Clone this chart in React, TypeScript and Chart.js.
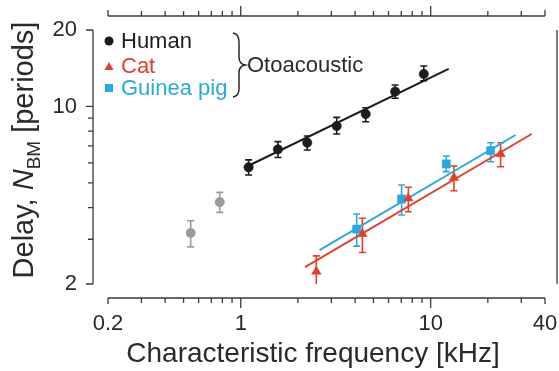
import React, { useEffect, useRef } from 'react';
import { Chart, registerables } from 'chart.js';

Chart.register(...registerables);

// ---------------- data ----------------
const seriesLabels = ['Human', 'Cat', 'Guinea pig'];
const groupLabel = 'Otoacoustic';
const xTitle = 'Characteristic frequency [kHz]';

const humanCF = [1.1, 1.57, 2.24, 3.2, 4.55, 6.5, 9.2];
const humanN = [5.76, 6.78, 7.2, 8.38, 9.34, 11.44, 13.42];
const humanLow = [5.37, 6.3, 6.74, 7.79, 8.71, 10.77, 12.63];
const humanHigh = [6.16, 7.27, 7.65, 9.06, 9.89, 12.15, 14.43];

const humanLowCF = [0.545, 0.775];
const humanLowN = [3.18, 4.2];
const humanLowLow = [2.8, 3.83];
const humanLowHigh = [3.55, 4.59];

const catCF = [2.5, 4.37, 7.63, 13.26, 23.35];
const catN = [2.24, 3.15, 4.35, 5.24, 6.5];
const catLow = [1.8, 2.66, 3.85, 4.66, 5.79];
const catHigh = [2.58, 3.63, 4.81, 5.83, 7.2];

const gpCF = [4.08, 7.03, 12.09, 20.7];
const gpN = [3.29, 4.32, 5.94, 6.7];
const gpLow = [2.82, 3.74, 5.54, 6.06];
const gpHigh = [3.77, 4.91, 6.38, 7.2];

const humanFitCF = [1.05, 12.44];
const humanFitN = [5.75, 14.05];
const catFitCF = [2.18, 34];
const catFitN = [2.33, 7.79];
const gpFitCF = [2.6, 28];
const gpFitN = [2.72, 7.72];

const xMajorTicks = [0.2, 1, 10, 40];
const xMinorTicks = [0.3, 0.4, 0.5, 0.6, 0.7, 0.8, 0.9, 2, 3, 4, 5, 6, 7, 8, 9, 20, 30];
const yMajorTicks = [2, 10, 20];
const yMinorTicks = [3, 4, 5, 6, 7, 8, 9];

// ---------------- style ----------------
const FAM = '"Liberation Sans", Arial, sans-serif';
const BLACK = '#1c1c1c';
const RED = '#e0402a';
const CYAN = '#2aa9e0';
const GREY = '#9a9a9a';
const AXIS = '#3a3a3a';
const TEXT = '#2a2a2a';

const pts = (xs: number[], ys: number[], lo?: number[], hi?: number[]) =>
  xs.map((x, i) => ({ x, y: ys[i], lo: lo ? lo[i] : undefined, hi: hi ? hi[i] : undefined }));

const errorBarPlugin = {
  id: 'errorBars',
  beforeDatasetsDraw(chart: any) {
    const { ctx, chartArea } = chart;
    const xs = chart.scales.x;
    const ys = chart.scales.y;
    ctx.save();
    ctx.beginPath();
    ctx.rect(chartArea.left - 10, chartArea.top - 10, chartArea.right - chartArea.left + 20, chartArea.bottom - chartArea.top + 10);
    ctx.clip();
    chart.data.datasets.forEach((ds: any) => {
      if (!ds.errorBars) return;
      ctx.strokeStyle = ds.backgroundColor;
      ctx.lineWidth = 1.6;
      ds.data.forEach((p: any) => {
        const px = xs.getPixelForValue(p.x);
        const pl = ys.getPixelForValue(p.lo);
        const ph = ys.getPixelForValue(p.hi);
        ctx.beginPath();
        ctx.moveTo(px, pl);
        ctx.lineTo(px, ph);
        ctx.moveTo(px - 3.5, ph);
        ctx.lineTo(px + 3.5, ph);
        if (p.lo >= ys.min) {
          ctx.moveTo(px - 3.5, pl);
          ctx.lineTo(px + 3.5, pl);
        }
        ctx.stroke();
      });
    });
    ctx.restore();
  },
};

const decorPlugin = {
  id: 'decor',
  afterDraw(chart: any) {
    const { ctx, chartArea } = chart;
    const xs = chart.scales.x;
    const ys = chart.scales.y;
    ctx.save();
    ctx.strokeStyle = AXIS;
    ctx.lineWidth = 1.3;

    // bottom & top x axes (offset)
    const xL = xs.getPixelForValue(xMajorTicks[0]);
    const xR = xs.getPixelForValue(xMajorTicks[xMajorTicks.length - 1]);
    const yB = chartArea.bottom + 14;
    const yT = chartArea.top - 14;
    ctx.beginPath();
    ctx.moveTo(xL, yB); ctx.lineTo(xR, yB);
    ctx.moveTo(xL, yT); ctx.lineTo(xR, yT);
    xMajorTicks.forEach((v) => {
      const px = xs.getPixelForValue(v);
      const len = v === 1 || v === 10 ? 10 : 6;
      ctx.moveTo(px, yB); ctx.lineTo(px, yB + len);
      ctx.moveTo(px, yT); ctx.lineTo(px, yT - len);
    });
    xMinorTicks.forEach((v) => {
      const px = xs.getPixelForValue(v);
      ctx.moveTo(px, yB); ctx.lineTo(px, yB + 5);
      ctx.moveTo(px, yT); ctx.lineTo(px, yT - 5);
    });
    // left y axis (offset)
    const xA = chartArea.left - 15;
    const yTop = ys.getPixelForValue(yMajorTicks[yMajorTicks.length - 1]);
    const yBot = ys.getPixelForValue(yMajorTicks[0]);
    ctx.moveTo(xA, yTop); ctx.lineTo(xA, yBot);
    yMajorTicks.forEach((v) => {
      const py = ys.getPixelForValue(v);
      ctx.moveTo(xA, py); ctx.lineTo(xA - 7, py);
    });
    yMinorTicks.forEach((v) => {
      const py = ys.getPixelForValue(v);
      ctx.moveTo(xA, py); ctx.lineTo(xA - 5, py);
    });
    // neighbouring panel edge on the right
    ctx.moveTo(chart.width - 2, yTop); ctx.lineTo(chart.width - 2, yBot);
    ctx.stroke();

    // x title
    ctx.fillStyle = TEXT;
    ctx.textAlign = 'center';
    ctx.textBaseline = 'alphabetic';
    ctx.font = `28px ${FAM}`;
    ctx.fillText(xTitle, 313, 362);

    // y title with italic N and subscript BM
    const size = 29;
    const parts = [
      { t: 'Delay, ', f: `${size}px ${FAM}`, dy: 0 },
      { t: 'N', f: `italic ${size}px ${FAM}`, dy: 0 },
      { t: 'BM', f: `${Math.round(size * 0.66)}px ${FAM}`, dy: size * 0.24 },
      { t: ' [periods]', f: `${size}px ${FAM}`, dy: 0 },
    ];
    let total = 0;
    parts.forEach((p) => { ctx.font = p.f; total += ctx.measureText(p.t).width; });
    ctx.save();
    ctx.translate(33, 150);
    ctx.rotate(-Math.PI / 2);
    ctx.textAlign = 'left';
    let cx = -total / 2;
    parts.forEach((p) => {
      ctx.font = p.f;
      ctx.fillText(p.t, cx, p.dy);
      cx += ctx.measureText(p.t).width;
    });
    ctx.restore();

    // legend
    const legend = [
      { label: seriesLabels[0], color: BLACK, shape: 'circle', my: 41, by: 48 },
      { label: seriesLabels[1], color: RED, shape: 'triangle', my: 67, by: 73 },
      { label: seriesLabels[2], color: CYAN, shape: 'square', my: 88, by: 95 },
    ];
    ctx.font = `22px ${FAM}`;
    ctx.textAlign = 'left';
    legend.forEach((l) => {
      ctx.fillStyle = l.color;
      const mx = 109;
      ctx.beginPath();
      if (l.shape === 'circle') ctx.arc(mx, l.my, 4.5, 0, Math.PI * 2);
      else if (l.shape === 'triangle') { ctx.moveTo(mx, l.my - 5); ctx.lineTo(mx + 4.5, l.my + 3); ctx.lineTo(mx - 4.5, l.my + 3); ctx.closePath(); }
      else ctx.rect(mx - 4, l.my - 4, 8, 8);
      ctx.fill();
      ctx.fillText(l.label, 121, l.by);
    });
    // brace
    ctx.strokeStyle = BLACK;
    ctx.lineWidth = 1.4;
    ctx.beginPath();
    ctx.moveTo(233, 33);
    ctx.quadraticCurveTo(239, 34, 239, 42);
    ctx.lineTo(239, 57);
    ctx.quadraticCurveTo(239, 64, 245, 65);
    ctx.quadraticCurveTo(239, 66, 239, 73);
    ctx.lineTo(239, 89);
    ctx.quadraticCurveTo(239, 96, 233, 97);
    ctx.stroke();
    ctx.fillStyle = TEXT;
    ctx.font = `22px ${FAM}`;
    ctx.fillText(groupLabel, 247, 72);
    ctx.restore();
  },
};

export default function App() {
  const ref = useRef<HTMLCanvasElement | null>(null);
  useEffect(() => {
    if (!ref.current) return;
    const fitDs = (label: string, xs: number[], ys: number[], color: string) => ({
      label, data: pts(xs, ys), showLine: true, borderColor: color, backgroundColor: color,
      borderWidth: 2, pointRadius: 0, order: 10,
    });
    const ptDs = (label: string, xs: number[], ys: number[], lo: number[], hi: number[], color: string, style: string, r: number) => ({
      label, data: pts(xs, ys, lo, hi), showLine: false, errorBars: true,
      backgroundColor: color, borderColor: color, pointStyle: style, pointRadius: r, borderWidth: 0.5, order: 1,
    });
    const chart = new Chart(ref.current, {
      type: 'scatter',
      data: {
        datasets: [
          fitDs('Human fit', humanFitCF, humanFitN, BLACK),
          fitDs('Cat fit', catFitCF, catFitN, RED),
          fitDs('Guinea pig fit', gpFitCF, gpFitN, CYAN),
          ptDs(seriesLabels[0], humanCF, humanN, humanLow, humanHigh, BLACK, 'circle', 4.7),
          ptDs('Human (low CF)', humanLowCF, humanLowN, humanLowLow, humanLowHigh, GREY, 'circle', 4.7),
          ptDs(seriesLabels[1], catCF, catN, catLow, catHigh, RED, 'triangle', 5.5),
          ptDs(seriesLabels[2], gpCF, gpN, gpLow, gpHigh, CYAN, 'rect', 5.8),
        ] as any,
      },
      options: {
        animation: false,
        responsive: false,
        devicePixelRatio: 1,
        layout: { padding: { left: 0, top: 30, right: 14, bottom: 0 } },
        plugins: { legend: { display: false }, tooltip: { enabled: false } },
        scales: {
          x: {
            type: 'logarithmic', min: 0.2, max: 40,
            afterBuildTicks: (s: any) => { s.ticks = xMajorTicks.map((v) => ({ value: v })); },
            afterFit: (s: any) => { s.height = 87; s.paddingLeft = 0; s.paddingRight = 0; },
            grid: { display: false, drawTicks: false },
            border: { display: false },
            ticks: { autoSkip: false, maxRotation: 0, padding: 27, color: TEXT, font: { family: FAM, size: 22 }, callback: (v: any) => String(v) },
          },
          y: {
            type: 'logarithmic', min: 2, max: 20,
            afterBuildTicks: (s: any) => { s.ticks = yMajorTicks.map((v) => ({ value: v })); },
            afterFit: (s: any) => { s.width = 108; s.paddingTop = 0; s.paddingBottom = 0; },
            grid: { display: false, drawTicks: false },
            border: { display: false },
            ticks: { autoSkip: false, padding: 31, color: TEXT, font: { family: FAM, size: 22 }, callback: (v: any) => String(v) },
          },
        },
      } as any,
      plugins: [errorBarPlugin, decorPlugin],
    });
    return () => chart.destroy();
  }, []);
  return (
    <div style={{ position: 'absolute', left: 0, top: 0, width: 559, height: 371 }}>
      <canvas ref={ref} width={559} height={371} />
    </div>
  );
}
